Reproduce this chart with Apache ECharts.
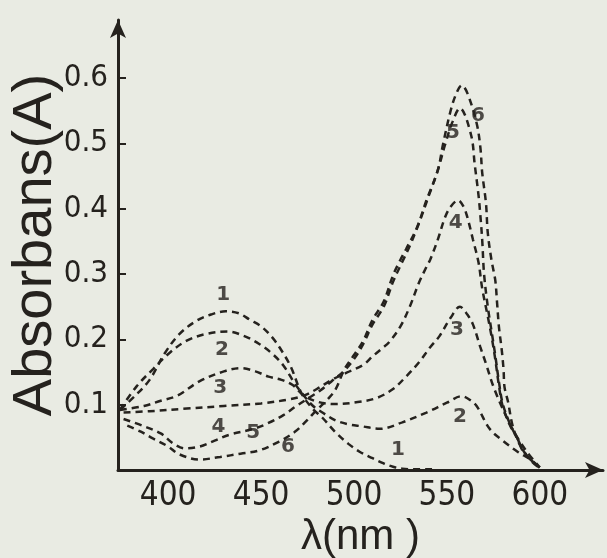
<!DOCTYPE html>
<html>
<head>
<meta charset="utf-8">
<script src="https://cdn.jsdelivr.net/npm/echarts@6/dist/echarts.min.js"></script>
<style>
  html, body { margin: 0; padding: 0; background: #e9ebe3; }
  #root { width: 607px; height: 558px; }
</style>
</head>
<body>
<div id="root"></div>
<script>
// wavelength (nm) / absorbance pairs
const curve1 = [[374,0.092],[382,0.113],[390,0.138],[398,0.178],[406,0.208],[415,0.228],[423,0.238],[431,0.243],[438,0.24],[444,0.23],[450,0.22],[456,0.203],[461,0.183],[466,0.158],[472,0.116],[478,0.093],[483,0.08],[490,0.058],[497,0.04],[503,0.028],[510,0.018],[516,0.01],[521,0.005],[526,0.002],[533,0.001],[542,0.001]];
const curve2 = [[374,0.092],[383,0.128],[392,0.155],[401,0.18],[410,0.198],[420,0.208],[432,0.212],[441,0.205],[449,0.193],[456,0.178],[462,0.16],[468,0.133],[473,0.114],[478,0.098],[483,0.088],[490,0.076],[497,0.07],[504,0.067],[514,0.063],[526,0.073],[539,0.088],[550,0.103],[558,0.113],[562,0.108],[566,0.098],[573,0.063],[580,0.045],[588,0.028],[595,0.016],[600,0.004]];
const curve3 = [[374,0.092],[387,0.098],[396,0.106],[405,0.114],[417,0.136],[430,0.151],[439,0.156],[447,0.151],[454,0.143],[461,0.138],[467,0.13],[473,0.114],[481,0.104],[490,0.101],[502,0.104],[512,0.11],[521,0.124],[528,0.143],[535,0.165],[541,0.188],[546,0.205],[552,0.233],[557,0.25],[561,0.238],[564,0.223],[568,0.188],[571,0.163],[575,0.128],[580,0.094],[586,0.059],[593,0.028],[600,0.004]];
const curve4 = [[376,0.088],[390,0.09],[410,0.094],[430,0.098],[450,0.102],[465,0.108],[473,0.114],[480,0.124],[488,0.138],[496,0.149],[505,0.161],[510,0.174],[515,0.186],[519,0.196],[525,0.22],[530,0.25],[535,0.287],[539,0.311],[541,0.322],[545,0.352],[549,0.387],[552,0.403],[556,0.413],[559,0.403],[561,0.387],[564,0.353],[567,0.318],[569,0.278],[572,0.235],[574,0.205],[576,0.17],[578,0.129],[580,0.098],[584,0.068],[588,0.048],[591,0.028],[595,0.016],[600,0.003]];
const curve5 = [[376,0.078],[386,0.068],[396,0.056],[403,0.04],[409,0.033],[417,0.036],[425,0.045],[433,0.054],[446,0.063],[454,0.072],[462,0.084],[469,0.098],[476,0.111],[482,0.122],[488,0.136],[494,0.15],[500,0.17],[505,0.193],[510,0.223],[516,0.25],[521,0.288],[525,0.313],[530,0.343],[535,0.378],[540,0.418],[545,0.458],[549,0.498],[553,0.533],[557,0.554],[563,0.513],[565,0.467],[567,0.421],[568,0.39],[569,0.352],[570,0.3],[572,0.25],[574,0.213],[576,0.176],[578,0.135],[580,0.102],[584,0.07],[588,0.048],[591,0.03],[595,0.016],[600,0.004]];
const curve6 = [[378,0.068],[385,0.059],[392,0.048],[400,0.036],[406,0.024],[417,0.016],[428,0.02],[439,0.025],[449,0.03],[460,0.044],[468,0.058],[474,0.074],[480,0.092],[486,0.109],[490,0.123],[495,0.155],[500,0.176],[505,0.198],[510,0.23],[516,0.258],[521,0.298],[525,0.322],[528,0.338],[534,0.372],[539,0.413],[545,0.458],[548,0.5],[552,0.55],[555,0.576],[558,0.589],[561,0.577],[566,0.531],[568,0.494],[569,0.455],[571,0.409],[572,0.363],[574,0.321],[576,0.291],[577,0.256],[578,0.219],[579.5,0.184],[580.5,0.153],[581,0.127],[583,0.103],[585,0.072],[588,0.046],[592,0.026],[596,0.012],[600,0.003]];

const curves = [curve1, curve2, curve3, curve4, curve5, curve6];
const curveLabels = [[429.6,0.268,'1'],[429,0.184,'2'],[428,0.126,'3'],[427,0.066,'4'],[445.7,0.057,'5'],[464.5,0.035,'6'],[523.7,0.031,'1'],[557,0.081,'2'],[555.4,0.214,'3'],[554.8,0.378,'4'],[553.2,0.517,'5'],[566.7,0.543,'6']];
const xTicks = [400, 450, 500, 550, 600];
const yTicks = [0.1, 0.2, 0.3, 0.4, 0.5, 0.6];

const ink = '#25221e';
const narrow = '"DejaVu Sans Condensed", "Liberation Sans Narrow", sans-serif';

const chart = echarts.init(document.getElementById('root'));

const lineSeries = curves.map((data, i) => ({
  name: 'curve ' + (i + 1),
  type: 'line',
  data,
  smooth: 0.35,
  symbol: 'none',
  lineStyle: { color: ink, width: 2.5, type: [7, 5] }
}));

const axisLine = {
  symbol: ['none', 'arrow'],
  symbolSize: [12, 18],
  lineStyle: { color: ink, width: 3 }
};

chart.setOption({
  backgroundColor: '#e9ebe3',
  animation: false,
  grid: { left: 118, right: 4, top: 20, bottom: 88, outerBoundsMode: 'none', containLabel: false },
  xAxis: {
    type: 'value',
    min: 373,
    max: 634,
    axisLine,
    axisTick: { show: false },
    splitLine: { show: false },
    axisLabel: {
      customValues: xTicks,
      color: ink,
      fontSize: 33,
      fontFamily: narrow,
      margin: 10
    },
    name: 'λ(nm )',
    nameLocation: 'middle',
    nameGap: 46,
    nameMoveOverlap: false,
    nameTextStyle: { color: ink, fontSize: 42, fontFamily: 'Liberation Sans' }
  },
  yAxis: {
    type: 'value',
    min: 0,
    max: 0.689,
    axisLine,
    axisTick: {
      customValues: yTicks,
      inside: true,
      length: 8,
      lineStyle: { color: ink, width: 2 }
    },
    splitLine: { show: false },
    axisLabel: {
      customValues: yTicks,
      formatter: v => v.toFixed(1),
      color: ink,
      fontSize: 31,
      fontFamily: narrow,
      margin: 10
    },
    name: 'Absorbans(A)',
    nameLocation: 'middle',
    nameRotate: 90,
    nameGap: 54,
    nameMoveOverlap: false,
    nameTextStyle: { color: ink, fontSize: 56, fontFamily: 'Liberation Sans' }
  },
  series: [
    ...lineSeries,
    {
      type: 'scatter',
      symbolSize: 0,
      data: curveLabels.map(([x, y, t]) => ({ value: [x, y], name: t })),
      label: {
        show: true,
        position: 'inside',
        formatter: p => p.name,
        color: ink,
        fontSize: 20,
        fontWeight: 'bold',
        fontFamily: 'DejaVu Sans'
      }
    }
  ]
});
</script>
</body>
</html>
